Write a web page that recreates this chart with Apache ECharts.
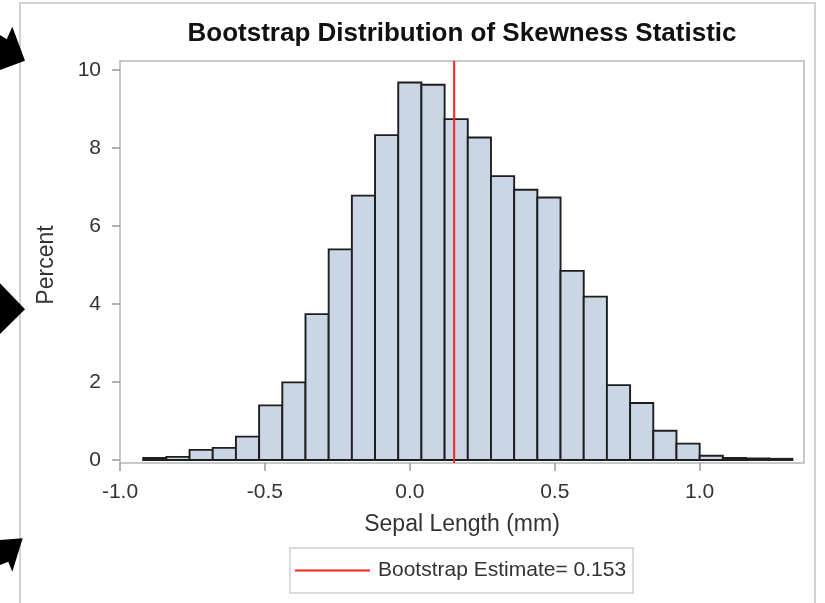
<!DOCTYPE html>
<html>
<head>
<meta charset="utf-8">
<script src="https://cdn.jsdelivr.net/npm/echarts@6/dist/echarts.min.js"></script>
<style>
  html, body { margin: 0; padding: 0; background: #fff; }
  #main { width: 825px; height: 603px; }
</style>
</head>
<body>
<div id="main"></div>
<script>
// bin centres (skewness), bin width 0.08
var binCenters = [-0.88, -0.80, -0.72, -0.64, -0.56, -0.48, -0.40, -0.32, -0.24, -0.16, -0.08, 0.00,
    0.08, 0.16, 0.24, 0.32, 0.40, 0.48, 0.56, 0.64, 0.72, 0.80, 0.88, 0.96, 1.04, 1.12, 1.20, 1.28];
// percent per bin
var percents = [0.05, 0.08, 0.26, 0.31, 0.60, 1.40, 1.99, 3.74, 5.40, 6.78, 8.33, 9.68,
    9.62, 8.74, 8.27, 7.28, 6.93, 6.73, 4.85, 4.19, 1.92, 1.46, 0.75, 0.42, 0.11, 0.05, 0.04, 0.03];
var xTicks = [-1.0, -0.5, 0.0, 0.5, 1.0];
var estimate = 0.153;
var estimateName = 'Bootstrap Estimate= 0.153';

var binHalf = 0.04;
var font = 'Liberation Sans, Arial, sans-serif';

var histData = [];
for (var i = 0; i < binCenters.length; i++) {
    histData.push([binCenters[i], percents[i]]);
}

// 画直方图的柱子
function renderBar(params, api) {
    var x = api.value(0);
    var y = api.value(1);
    var p0 = api.coord([x - binHalf, y]);
    var p1 = api.coord([x + binHalf, 0]);
    return {
        type: 'rect',
        shape: { x: p0[0], y: p0[1], width: p1[0] - p0[0], height: p1[1] - p0[1] },
        style: { fill: '#cad5e5', stroke: '#1e1e1e', lineWidth: 1.9 }
    };
}

// 左边的黑色箭头
function arrow(points) {
    return { type: 'polygon', shape: { points: points }, style: { fill: '#000' }, z: 100 };
}

var chart = echarts.init(document.getElementById('main'));
var option = {
    backgroundColor: '#fff',
    animation: false,
    title: {
        text: 'Bootstrap Distribution of Skewness Statistic',
        left: 462,
        textAlign: 'center',
        top: 21,
        padding: 0,
        textStyle: { fontFamily: font, fontSize: 26, fontWeight: 'bold', color: '#111' }
    },
    legend: {
        data: [{ name: estimateName, icon: 'rect' }],
        left: 290,
        top: 548,
        padding: [12, 7, 12, 5],
        borderColor: '#cfcfcf',
        borderWidth: 1.5,
        itemWidth: 75,
        itemHeight: 2,
        textStyle: { fontFamily: font, fontSize: 21, color: '#333', padding: [0, 0, 0, 3] }
    },
    grid: [
        { left: 120, right: 21, top: 70, bottom: 143 },
        { left: 120, right: 21, top: 61, bottom: 140, show: true, borderColor: '#b4b8bc', borderWidth: 1.5 }
    ],
    xAxis: [{
        type: 'value',
        gridIndex: 0,
        min: -1.0,
        max: 1.36,
        offset: 3,
        name: 'Sepal Length (mm)',
        nameLocation: 'middle',
        nameGap: 50,
        nameTextStyle: { fontFamily: font, fontSize: 23, color: '#333' },
        axisLine: { show: false, onZero: false },
        axisTick: { show: true, length: 8, customValues: xTicks, lineStyle: { color: '#999', width: 1.5 } },
        axisLabel: {
            customValues: xTicks,
            margin: 19,
            fontFamily: font,
            fontSize: 21,
            color: '#333',
            formatter: function (v) { return v.toFixed(1); }
        },
        splitLine: { show: false }
    }, {
        type: 'value',
        gridIndex: 1,
        min: -1.0,
        max: 1.36,
        show: false
    }],
    yAxis: [{
        type: 'value',
        gridIndex: 0,
        min: 0,
        max: 10,
        interval: 2,
        name: 'Percent',
        nameLocation: 'middle',
        nameGap: 62,
        nameTextStyle: { fontFamily: font, fontSize: 23, color: '#333' },
        axisLine: { show: false, onZero: false },
        axisTick: { show: true, length: 8, lineStyle: { color: '#999', width: 1.5 } },
        axisLabel: { margin: 19, fontFamily: font, fontSize: 21, color: '#333' },
        splitLine: { show: false }
    }, {
        type: 'value',
        gridIndex: 1,
        min: 0,
        max: 1,
        show: false
    }],
    series: [{
        type: 'custom',
        name: 'hist',
        xAxisIndex: 0,
        yAxisIndex: 0,
        renderItem: renderBar,
        encode: { x: 0, y: 1 },
        data: histData
    }, {
        type: 'line',
        name: estimateName,
        xAxisIndex: 1,
        yAxisIndex: 1,
        symbol: 'none',
        color: '#ff2020',
        lineStyle: { color: '#ff2020', width: 2 },
        z: 10,
        data: [[estimate, 0], [estimate, 1]]
    }],
    graphic: [
        { type: 'rect', shape: { x: 20, y: 3, width: 795, height: 620 }, style: { fill: null, stroke: '#d2d2d2', lineWidth: 2 }, z: 90 },
        arrow([[0, 35], [6.7, 39.3], [12.3, 26.7], [25, 60.7], [0, 70]]),
        arrow([[0, 283.3], [25, 309.3], [0, 334]]),
        arrow([[0, 540], [22.7, 538.3], [12.3, 571.7], [8.3, 561.7], [0, 565]])
    ]
};
chart.setOption(option);
</script>
</body>
</html>
